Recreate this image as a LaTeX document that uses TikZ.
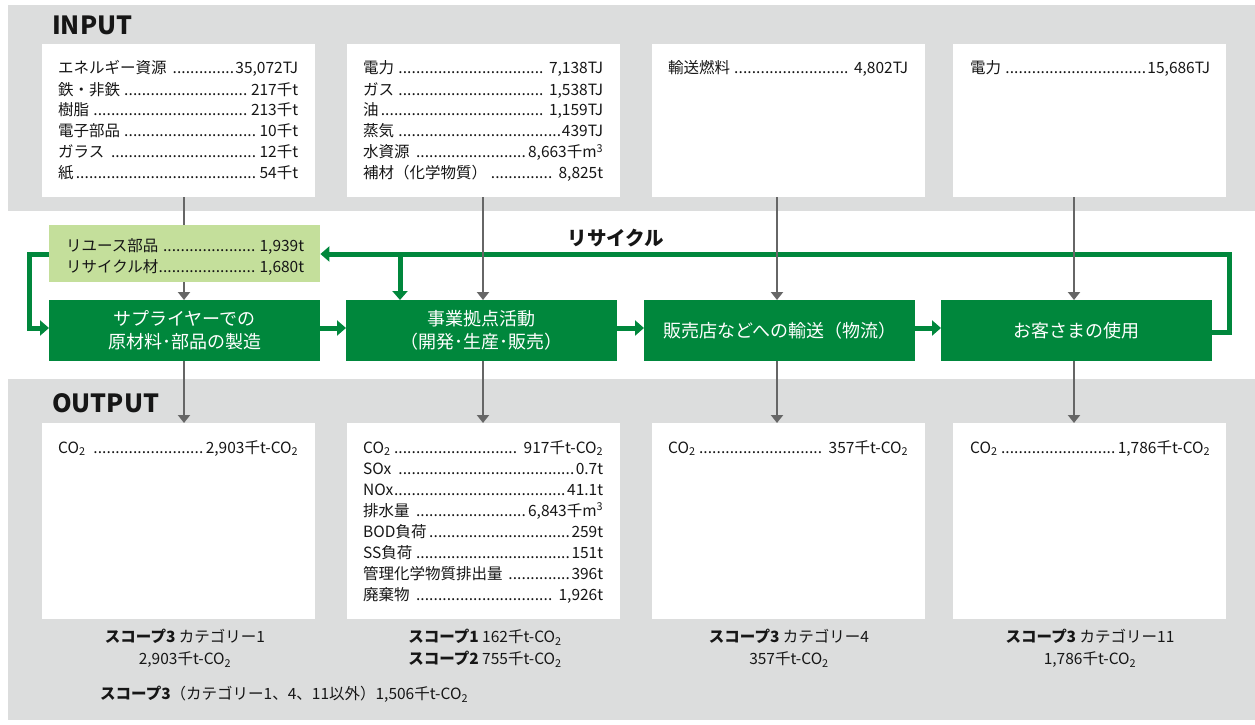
\documentclass[tikz,border=0pt]{standalone}
\usepackage{fontspec}
\setmainfont{Noto Sans CJK JP}
\usetikzlibrary{arrows.meta}
\definecolor{bggray}{HTML}{DCDDDD}
\definecolor{ggreen}{HTML}{00873C}
\definecolor{lgreen}{HTML}{C4DF9B}
\definecolor{agray}{HTML}{666666}
\definecolor{txt}{HTML}{161616}
\newcommand\dl[2]{\hbox to 240pt{#1\leaders\hbox to 4.4pt{\hss.\hss}\hfill #2}}
\newcommand\lns[1]{\vtop{\baselineskip=21pt\lineskiplimit=-100pt\lineskip=0pt #1}}
\newcommand\cotwo{CO\textsubscript{2}}
\newcommand\mth{m\textsuperscript{3}}
\begin{document}
\begin{tikzpicture}[x=1pt,y=-1pt,
  whitebox/.style={fill=white,draw=none,inner sep=0pt,anchor=north west,minimum width=273pt},
  gbox/.style={fill=ggreen,draw=none,text=white,anchor=north west,minimum width=271pt,minimum height=61pt,
    align=center,font=\fontsize{18pt}{23pt}\selectfont,inner sep=0pt},
  lgbox/.style={fill=lgreen,draw=none,anchor=north west,minimum width=271pt,minimum height=57pt,inner sep=0pt},
  lst/.style={font=\fontsize{15.5pt}{21pt}\selectfont,text=txt,inner sep=0pt,anchor=base west},
  scp/.style={font=\fontsize{15.5pt}{21pt}\selectfont,text=txt,inner sep=0pt,anchor=base},
  head/.style={font=\bfseries\fontsize{25pt}{27pt}\selectfont,text=txt,inner sep=0pt,anchor=base west},
  gline/.style={draw=agray,line width=2pt},
  garrow/.style={draw=agray,line width=2pt,-{Triangle[length=8pt,width=12pt]}},
  recy/.style={draw=ggreen,line width=5pt},
  recyarrow/.style={draw=ggreen,line width=5pt,-{Triangle[length=9pt,width=15pt]}}]
\useasboundingbox (0,0) rectangle (1255,725);
% background bands
\fill[bggray] (8,5) rectangle (1255,211);
\fill[bggray] (8,379) rectangle (1255,720);
% headings
\node[head] (hin) at (52,35) {INPUT};
\node[head] (hout) at (52,412) {OUTPUT};
% input boxes
\node[whitebox,minimum height=153pt] (in1) at (42,44) {};
\node[whitebox,minimum height=153pt] (in2) at (347,44) {};
\node[whitebox,minimum height=153pt] (in3) at (652,44) {};
\node[whitebox,minimum height=153pt] (in4) at (953,44) {};
% output boxes
\node[whitebox,minimum height=196pt] (out1) at (42,423) {};
\node[whitebox,minimum height=196pt] (out2) at (347,423) {};
\node[whitebox,minimum height=196pt] (out3) at (652,423) {};
\node[whitebox,minimum height=196pt] (out4) at (953,423) {};
% input lists
\node[lst] (tin1) at (58,74) {\lns{%
  \dl{エネルギー資源 }{35,072TJ}
  \dl{鉄・非鉄}{ 217千t}
  \dl{樹脂 }{ 213千t}
  \dl{電子部品}{10千t}
  \dl{ガラス }{12千t}
  \dl{紙}{54千t}}};
\node[lst] (tin2) at (363,74) {\lns{%
  \dl{電力 }{ 7,138TJ}
  \dl{ガス}{ 1,538TJ}
  \dl{油}{ 1,159TJ}
  \dl{蒸気}{439TJ}
  \dl{水資源 }{8,663千\mth}
  \dl{補材（化学物質） }{ 8,825t}}};
\node[lst] (tin3) at (668,74) {\lns{\dl{輸送燃料}{ 4,802TJ}}};
\node[lst] (tin4) at (970,74) {\lns{\dl{電力 }{15,686TJ}}};
% output lists
\node[lst] (tout1) at (58,453) {\lns{\dl{\cotwo\ \ }{2,903千t-\cotwo}}};
\node[lst] (tout2) at (363,453) {\lns{%
  \dl{\cotwo}{ 917千t-\cotwo}
  \dl{SOx }{0.7t}
  \dl{NOx}{41.1t}
  \dl{排水量 }{6,843千\mth}
  \dl{BOD負荷}{259t}
  \dl{SS負荷}{151t}
  \dl{管理化学物質排出量 }{396t}
  \dl{廃棄物 }{ 1,926t}}};
\node[lst] (tout3) at (668,453) {\lns{\dl{\cotwo}{ 357千t-\cotwo}}};
\node[lst] (tout4) at (970,453) {\lns{\dl{\cotwo}{1,786千t-\cotwo}}};
% light green box
\node[lgbox] (lg) at (49,225) {};
\node[lst] (tlg) at (66,251) {\lns{%
  \hbox to 238pt{リユース部品 \leaders\hbox to 4.4pt{\hss.\hss}\hfill\ 1,939t}
  \hbox to 238pt{リサイクル材\leaders\hbox to 4.4pt{\hss.\hss}\hfill\ 1,680t}}};
% green process boxes
\node[gbox] (g1) at (49,300) {サプライヤーでの\\原材料･部品の製造};
\node[gbox] (g2) at (346,300) {事業拠点活動\\（開発･生産･販売）};
\node[gbox] (g3) at (644,300) {販売店などへの輸送（物流）};
\node[gbox] (g4) at (941,300) {お客さまの使用};
% recycle label
\node[font=\bfseries\fontsize{19.5pt}{21pt}\selectfont,text=txt,inner sep=0pt] (rl) at (616,238) {リサイクル};
% helper coordinates
\coordinate (x1) at (184,0);
\coordinate (x2) at (483,0);
\coordinate (x3) at (777,0);
\coordinate (x4) at (1074,0);
\coordinate (ay) at (0,328);
\coordinate (ry) at (0,332);
\coordinate (rr) at (1229,254);
\coordinate (bx) at (400,254);
\coordinate (lx) at (29,254);
% green connectors
\draw[recy] (g4.east |- ry) -- (rr |- ry) -- (rr) -- (bx);
\draw[recyarrow] (bx) -- (lg.east |- rr);
\draw[recyarrow] (bx) -- (g2.north -| bx);
\draw[recyarrow] (lg.west |- lx) -- (lx) -- (lx |- ay) -- (g1.west |- ay);
\draw[recyarrow] (g1.east |- ay) -- (g2.west |- ay);
\draw[recyarrow] (g2.east |- ay) -- (g3.west |- ay);
\draw[recyarrow] (g3.east |- ay) -- (g4.west |- ay);
% gray connectors
\draw[gline] (in1.south -| x1) -- (lg.north -| x1);
\draw[garrow] (lg.south -| x1) -- (g1.north -| x1);
\draw[garrow] (in2.south -| x2) -- (g2.north -| x2);
\draw[garrow] (in3.south -| x3) -- (g3.north -| x3);
\draw[garrow] (in4.south -| x4) -- (g4.north -| x4);
\draw[garrow] (g1.south -| x1) -- (out1.north -| x1);
\draw[garrow] (g2.south -| x2) -- (out2.north -| x2);
\draw[garrow] (g3.south -| x3) -- (out3.north -| x3);
\draw[garrow] (g4.south -| x4) -- (out4.north -| x4);
% scope labels
\node[scp] (s1a) at (185,642.5) {\textbf{スコープ3} カテゴリー1};
\node[scp] (s1b) at (185,664.5) {2,903千t-\cotwo};
\node[scp] (s2a) at (485,642.5) {\textbf{スコープ1} 162千t-\cotwo};
\node[scp] (s2b) at (485,664.5) {\textbf{スコープ2} 755千t-\cotwo};
\node[scp] (s3a) at (789,642.5) {\textbf{スコープ3} カテゴリー4};
\node[scp] (s3b) at (789,664.5) {357千t-\cotwo};
\node[scp] (s4a) at (1090,642.5) {\textbf{スコープ3} カテゴリー11};
\node[scp] (s4b) at (1090,664.5) {1,786千t-\cotwo};
\node[lst] (sall) at (100,699.5) {\textbf{スコープ3}（カテゴリー1、4、11以外）1,506千t-\cotwo};
\end{tikzpicture}
\end{document}
